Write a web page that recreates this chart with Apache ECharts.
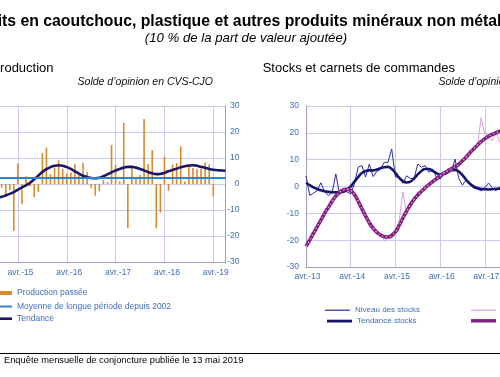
<!DOCTYPE html>
<html>
<head>
<meta charset="utf-8">
<script src="https://cdn.jsdelivr.net/npm/echarts@6.0.0/dist/echarts.min.js"></script>
<style>
  html, body { margin: 0; padding: 0; background: #fff; }
  #chart { width: 500px; height: 377px; }
</style>
</head>
<body>
<div id="chart"></div>
<script>
// Production passée (gauche) : mois d'oct. 2014 à juil. 2019
const leftMonths = [
  'oct.-14', 'nov.-14', 'déc.-14',
  'janv.-15', 'févr.-15', 'mars-15', 'avr.-15', 'mai-15', 'juin-15', 'juil.-15', 'août-15', 'sept.-15', 'oct.-15', 'nov.-15', 'déc.-15',
  'janv.-16', 'févr.-16', 'mars-16', 'avr.-16', 'mai-16', 'juin-16', 'juil.-16', 'août-16', 'sept.-16', 'oct.-16', 'nov.-16', 'déc.-16',
  'janv.-17', 'févr.-17', 'mars-17', 'avr.-17', 'mai-17', 'juin-17', 'juil.-17', 'août-17', 'sept.-17', 'oct.-17', 'nov.-17', 'déc.-17',
  'janv.-18', 'févr.-18', 'mars-18', 'avr.-18', 'mai-18', 'juin-18', 'juil.-18', 'août-18', 'sept.-18', 'oct.-18', 'nov.-18', 'déc.-18',
  'janv.-19', 'févr.-19', 'mars-19', 'avr.-19', 'mai-19', 'juin-19', 'juil.-19'
]
const production = [
  -3, -6, -1.5,
  -4.2, -2.3, -18, 8, -7.8, 3, -1, -5, -3, 11.8, 14, 3.8,
  6.3, 9.1, 5.8, 4, 4.4, 7.6, 3.5, 8.2, 4.6, -1.5, -4.5, -2.8,
  1.5, 0.8, 15, 7.3, 1, 23.5, -17, 6.5, 2, 3.5, 25, 7.7,
  13, -17, -11, 10.5, -2.5, 7.5, 8, 14.5, 1, 7, 6.2, 5.8,
  6, 8.3, 7.6, -4.8, null, null, null
]
const tendanceProd = [
  -5.3, -5.2, -4.9,
  -4.4, -3.8, -3.1, -2.2, -1.3, -0.5, 0.5, 1.8, 3.2, 4.6, 5.7, 6.5,
  7.0, 7.2, 7.0, 6.5, 5.8, 4.9, 4.0, 3.2, 2.7, 2.3, 2.2, 2.4,
  3.0, 3.7, 4.5, 5.2, 5.8, 6.3, 6.6, 6.6, 6.3, 5.8, 5.2, 4.6,
  4.1, 3.8, 3.9, 4.3, 4.9, 5.4, 5.9, 6.4, 6.8, 7.1, 7.2, 7.0,
  6.6, 6.2, 5.8, 5.5, 5.3, 5.2, 5.1
]
const moyenneLongue = 2.4

// Stocks et carnets (droite) : mois d'avr. 2013 à oct. 2017
const rightMonths = [
  'avr.-13', 'mai-13', 'juin-13', 'juil.-13', 'août-13', 'sept.-13', 'oct.-13', 'nov.-13', 'déc.-13',
  'janv.-14', 'févr.-14', 'mars-14', 'avr.-14', 'mai-14', 'juin-14', 'juil.-14', 'août-14', 'sept.-14', 'oct.-14', 'nov.-14', 'déc.-14',
  'janv.-15', 'févr.-15', 'mars-15', 'avr.-15', 'mai-15', 'juin-15', 'juil.-15', 'août-15', 'sept.-15', 'oct.-15', 'nov.-15', 'déc.-15',
  'janv.-16', 'févr.-16', 'mars-16', 'avr.-16', 'mai-16', 'juin-16', 'juil.-16', 'août-16', 'sept.-16', 'oct.-16', 'nov.-16', 'déc.-16',
  'janv.-17', 'févr.-17', 'mars-17', 'avr.-17', 'mai-17', 'juin-17', 'juil.-17', 'août-17', 'sept.-17', 'oct.-17'
]
const niveauStocks = [
  4, -3.3, -2.5, -1.5, 1.4, -2, -3.3, -2.5, 4.7,
  -2.8, -1.5, -2, -2.7, 1, 7.2, 7.8, 3.5, 8.4, 3.7, 5.5, 6.5,
  9, 9, 14, 3.5, 3.5, 1.2, 4, 3, 3, 8.4, 7.2, 7.8,
  5.3, 6.5, 3.5, 2.8, 4.5, 6.5, 5.5, 10.2, 3, 0.5, 2.6, 1,
  -0.6, -1, -1.6, -0.5, 1.3, -0.5, -1.6, -0.1, -1, 0
]
const tendanceStocks = [
  1.4, 0.5, -0.3, -0.9, -1.4, -1.8, -2, -2.1, -2.2,
  -2.2, -2, -1.2, 0, 1.8, 3.5, 5, 5.8, 6, 6, 6.3, 6.8,
  7.2, 7.3, 6.5, 5, 3.3, 2, 1.5, 1.8, 3, 4.5, 5.8, 6.5,
  6.5, 5.8, 5, 4.5, 4.6, 5.3, 6, 6.2, 5.6, 4.2, 2.5, 1,
  0, -0.6, -0.9, -1, -1.1, -1, -0.9, -0.8, -0.7, -0.6
]
const carnets = [
  -21.5, -20.5, -17, -15.5, -12, -10.5, -7, -6, -3,
  -2.5, -0.5, -1.5, -0.5, -4, -5, -9, -10, -15, -14.5, -18, -17.5,
  -20.5, -19, -19.5, -17.5, -13, -2, -10.5, -6, -5.5, -2, -2.5, 0.5,
  0, 2.5, 2, 4.5, 4, 6.5, 5.5, 8, 7.5, 10, 10.5, 13,
  13.5, 15, 25.7, 19.5, 19, 17, 20.5, 16.5, 21, 22
]
const tendanceCarnets = [
  -22.3, -20, -17.5, -15, -12.5, -10, -7.8, -5.5, -3.6,
  -2.2, -1.3, -1, -1.5, -3, -5.5, -8.3, -11, -13.5, -15.5, -17, -18.1,
  -18.7, -18.8, -18.2, -16.9, -14.5, -11.8, -9.2, -6.8, -4.8, -3.2, -1.8, -0.5,
  0.7, 1.8, 2.9, 4, 5, 5.8, 6.6, 7.4, 8.3, 9.6, 11, 12.6,
  14, 15.4, 16.7, 17.8, 18.7, 19.4, 20, 20.6, 21, 21.3
]

const yMin = -30
const yMax = 30
const yStep = 10

const font = 'Liberation Sans'
const labelColor = '#3f6fb8'
const gridColor = '#cacaf0'
const axisColor = '#9d9dca'

const isApril = (idx, value) => String(value).startsWith('avr.')

const chart = echarts.init(document.getElementById('chart'))

const xAxisBase = (gridIndex, data, margin, pad) => ({
  gridIndex,
  type: 'category',
  data,
  boundaryGap: false,
  axisLine: { onZero: false, lineStyle: { color: axisColor, width: 1 } },
  axisTick: { show: false },
  axisLabel: {
    interval: isApril,
    color: labelColor,
    fontSize: 8.5,
    fontFamily: font,
    margin,
    padding: [0, 0, 0, pad],
  },
  splitLine: { show: true, interval: isApril, lineStyle: { color: gridColor, width: 1 } },
})

const yAxisBase = (gridIndex, position, margin) => ({
  gridIndex,
  type: 'value',
  position,
  min: yMin,
  max: yMax,
  interval: yStep,
  axisLine: { show: true, onZero: false, lineStyle: { color: axisColor, width: 1 } },
  axisTick: { show: false },
  axisLabel: { color: labelColor, fontSize: 8.5, fontFamily: font, margin, align: 'right' },
  splitLine: { show: true, lineStyle: { color: gridColor, width: 1 } },
})

// une légende par entrée, l'icône est un trait plein de l'épaisseur de la série
const legendItem = (name, left, top, thick, size) => ({
  data: [name],
  left,
  top: top - thick / 2 - 2.5,
  padding: 0,
  orient: 'vertical',
  itemWidth: 25,
  itemHeight: thick,
  icon: 'rect',
  selectedMode: false,
  textStyle: { color: labelColor, fontSize: size, fontFamily: font, lineHeight: thick },
})

const option = {
  animation: false,
  backgroundColor: '#ffffff',
  textStyle: { fontFamily: font },
  grid: [
    { left: -6.5, top: 106, width: 232, height: 156, containLabel: false, outerBoundsMode: 'none' },
    { left: 306, top: 106, width: 201.2, height: 161, containLabel: false, outerBoundsMode: 'none' },
  ],
  xAxis: [
    xAxisBase(0, leftMonths, 6, 5),
    xAxisBase(1, rightMonths, 5, 3),
  ],
  yAxis: [
    yAxisBase(0, 'right', 14),
    yAxisBase(1, 'left', 7),
  ],
  legend: [
    legendItem('Production passée', -13, 293, 4, 8.5),
    legendItem('Moyenne de longue période depuis 2002', -13, 305.5, 2, 8.5),
    legendItem('Tendance', -13, 318, 2.6, 8.5),
    legendItem('Niveau des stocks', 325, 309.3, 1.2, 8),
    legendItem('Tendance stocks', 327, 321, 2.8, 8),
    legendItem('Carnets de commandes', 471, 309.3, 1.2, 8),
    legendItem('Tendance carnets', 471, 321, 3.4, 8),
  ],
  series: [
    {
      name: 'Production passée',
      type: 'bar',
      xAxisIndex: 0,
      yAxisIndex: 0,
      data: production,
      barWidth: 1.6,
      itemStyle: { color: '#d98a2c' },
    },
    {
      name: 'Moyenne de longue période depuis 2002',
      type: 'line',
      xAxisIndex: 0,
      yAxisIndex: 0,
      data: [],
      symbol: 'none',
      lineStyle: { color: '#2f82cc', width: 2 },
      itemStyle: { color: '#2f82cc' },
      markLine: {
        silent: true,
        symbol: 'none',
        label: { show: false },
        lineStyle: { color: '#2f82cc', width: 2, type: 'solid' },
        data: [{ yAxis: moyenneLongue }],
      },
    },
    {
      name: 'Tendance',
      type: 'line',
      xAxisIndex: 0,
      yAxisIndex: 0,
      data: tendanceProd,
      smooth: true,
      symbol: 'none',
      lineStyle: { color: '#1b1666', width: 2.6 },
      itemStyle: { color: '#1b1666' },
    },
    {
      name: 'Niveau des stocks',
      type: 'line',
      xAxisIndex: 1,
      yAxisIndex: 1,
      data: niveauStocks,
      symbol: 'none',
      lineStyle: { color: '#2b2ba6', width: 1 },
      itemStyle: { color: '#2b2ba6' },
    },
    {
      name: 'Tendance stocks',
      type: 'line',
      xAxisIndex: 1,
      yAxisIndex: 1,
      data: tendanceStocks,
      smooth: true,
      symbol: 'none',
      lineStyle: { color: '#16156a', width: 2.6 },
      itemStyle: { color: '#16156a' },
    },
    {
      name: 'Carnets de commandes',
      type: 'line',
      xAxisIndex: 1,
      yAxisIndex: 1,
      data: carnets,
      symbol: 'none',
      lineStyle: { color: '#dc9fe4', width: 1 },
      itemStyle: { color: '#dc9fe4' },
    },
    {
      name: 'Tendance carnets',
      type: 'line',
      xAxisIndex: 1,
      yAxisIndex: 1,
      data: tendanceCarnets,
      smooth: true,
      symbol: 'none',
      lineStyle: { color: '#7f1f7e', width: 3.6 },
      itemStyle: { color: '#7f1f7e' },
    },
    {
      name: 'Tendance carnets motif',
      type: 'line',
      xAxisIndex: 1,
      yAxisIndex: 1,
      data: tendanceCarnets,
      smooth: true,
      symbol: 'none',
      silent: true,
      lineStyle: { color: '#e9a8ea', width: 1.2, type: [1.5, 2.5] },
      itemStyle: { color: '#e9a8ea' },
    },
  ],
  graphic: {
    elements: [
      {
        type: 'text', x: -48, y: 22, silent: true,
        style: {
          text: 'Produits en caoutchouc, plastique et autres produits minéraux non métalliques',
          font: 'bold 15.8px "Liberation Sans"', fill: '#000', align: 'left', verticalAlign: 'middle',
        },
      },
      {
        type: 'text', x: 246, y: 38.3, silent: true,
        style: {
          text: '(10 % de la part de valeur ajoutée)',
          font: 'italic 13.2px "Liberation Sans"', fill: '#000', align: 'center', verticalAlign: 'middle',
        },
      },
      {
        type: 'text', x: -8.6, y: 68.5, silent: true,
        style: { text: 'Production', font: '13px "Liberation Sans"', fill: '#000', align: 'left', verticalAlign: 'middle' },
      },
      {
        type: 'text', x: 213, y: 82, silent: true,
        style: { text: 'Solde d’opinion en CVS-CJO', font: 'italic 10.5px "Liberation Sans"', fill: '#111', align: 'right', verticalAlign: 'middle' },
      },
      {
        type: 'text', x: 262.7, y: 68.5, silent: true,
        style: { text: 'Stocks et carnets de commandes', font: '13px "Liberation Sans"', fill: '#000', align: 'left', verticalAlign: 'middle' },
      },
      {
        type: 'text', x: 438.5, y: 82, silent: true,
        style: { text: 'Solde d’opinion en CVS-CJO', font: 'italic 10.5px "Liberation Sans"', fill: '#111', align: 'left', verticalAlign: 'middle' },
      },
      {
        type: 'line', silent: true,
        shape: { x1: 0, y1: 353.5, x2: 500, y2: 353.5 },
        style: { stroke: '#000', lineWidth: 1 },
      },
      {
        type: 'text', x: 4, y: 360.7, silent: true,
        style: { text: 'Enquête mensuelle de conjoncture publiée le 13 mai 2019', font: '9.3px "Liberation Sans"', fill: '#000', align: 'left', verticalAlign: 'middle' },
      },
    ],
  },
}

chart.setOption(option)
</script>
</body>
</html>
